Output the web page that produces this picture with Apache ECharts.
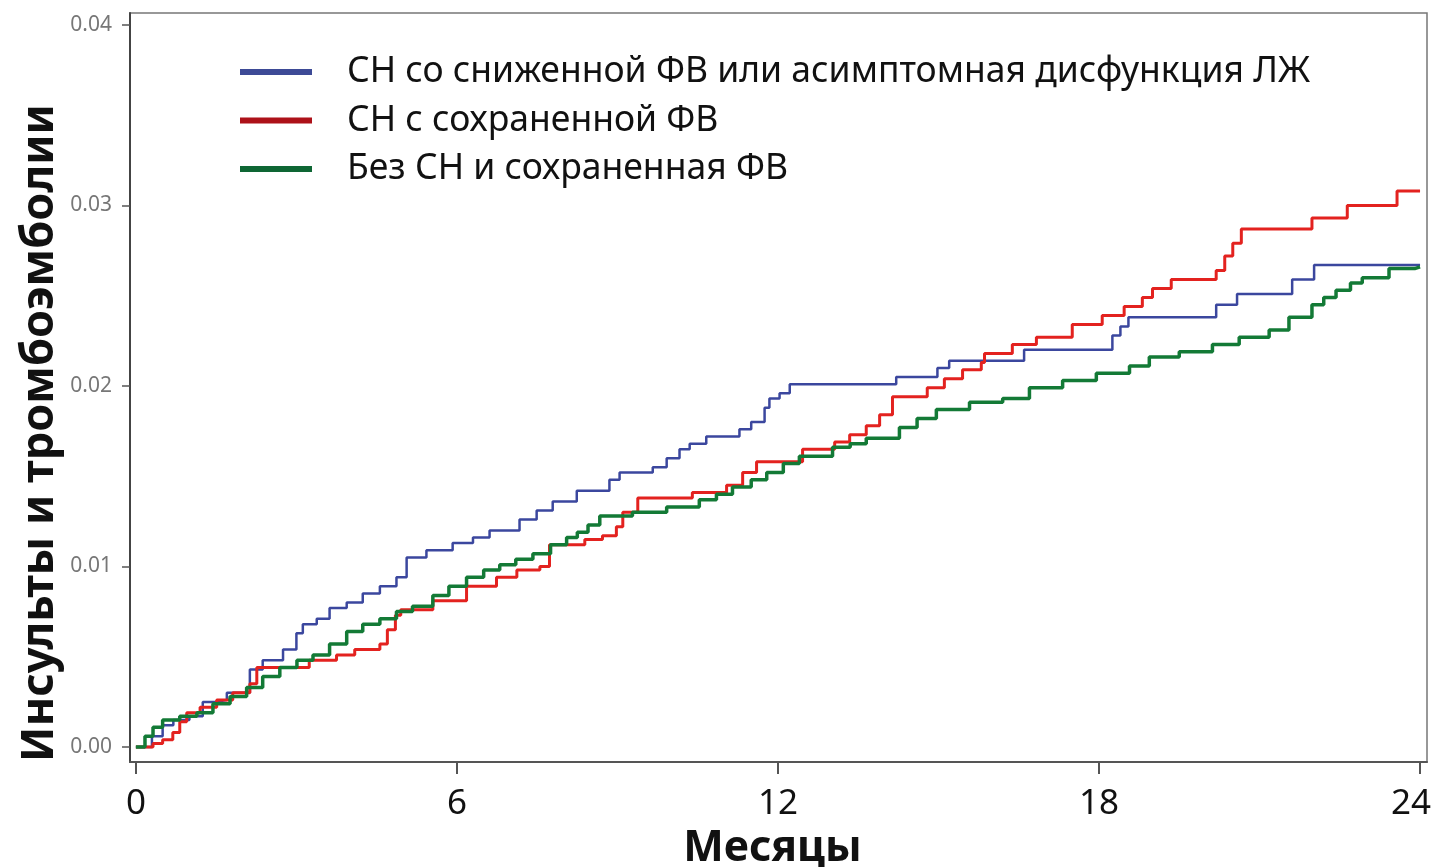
<!DOCTYPE html>
<html><head><meta charset="utf-8">
<script src="https://cdn.jsdelivr.net/npm/echarts@6/dist/echarts.min.js"></script>
<style>html,body{margin:0;padding:0;background:#fff}#c{width:1434px;height:867px}</style>
</head><body><div id="c"></div>
<script>
const seriesNames = ['СН со сниженной ФВ или асимптомная дисфункция ЛЖ','СН с сохраненной ФВ','Без СН и сохраненная ФВ'];
const xTicks = [0, 6, 12, 18, 24];
const yTicks = [0, 0.01, 0.02, 0.03, 0.04];
const xTitle = 'Месяцы';
const yTitle = 'Инсульты и тромбоэмболии';

const blueMonths = [0,0.13,0.3,0.5,0.7,1.0,1.25,1.5,1.7,2.13,2.37,2.75,3.0,3.12,3.38,3.62,3.94,4.24,4.56,4.87,5.06,5.43,5.92,6.3,6.61,7.17,7.49,7.79,8.24,8.85,9.04,9.66,9.92,10.16,10.35,10.66,11.28,11.5,11.75,11.84,12.03,12.22,14.21,14.98,15.2,16.6,18.25,18.4,18.55,20.19,20.58,21.61,22.02,24.0];
const blueValues = [0,0,0.0006,0.0012,0.0015,0.0017,0.0025,0.0026,0.003,0.0043,0.0048,0.0054,0.0063,0.0068,0.0071,0.0077,0.008,0.0085,0.0089,0.0094,0.0105,0.0109,0.0113,0.0116,0.012,0.0126,0.0131,0.0136,0.0142,0.0148,0.0152,0.0155,0.016,0.0165,0.0168,0.0172,0.0176,0.018,0.0188,0.0193,0.0196,0.0201,0.0205,0.021,0.0214,0.022,0.0228,0.0233,0.0238,0.0245,0.0251,0.0259,0.0267,0.0267];

const redMonths = [0,0.32,0.5,0.69,0.82,0.95,1.2,1.51,1.81,2.13,2.26,3.24,3.75,4.09,4.56,4.7,4.85,4.95,5.55,6.18,6.74,7.12,7.55,7.73,8.39,8.72,8.98,9.1,9.38,10.4,11.04,11.34,11.6,12.46,13.06,13.34,13.65,13.9,14.14,14.79,15.11,15.45,15.8,15.86,16.38,16.83,17.5,18.06,18.47,18.81,19.0,19.35,20.19,20.35,20.5,20.66,21.98,22.64,23.57,24.0];
const redValues = [0,0.0002,0.0004,0.0008,0.0014,0.0019,0.0022,0.0026,0.003,0.0035,0.0044,0.0048,0.0051,0.0054,0.0057,0.0065,0.0073,0.0076,0.0081,0.0089,0.0094,0.0098,0.01,0.0112,0.0115,0.0117,0.0122,0.013,0.0138,0.0141,0.0145,0.0152,0.0158,0.0165,0.0169,0.0173,0.0178,0.0184,0.0194,0.0199,0.0204,0.0209,0.0213,0.0218,0.0223,0.0227,0.0234,0.0239,0.0244,0.0249,0.0254,0.0259,0.0264,0.0272,0.0279,0.0287,0.0293,0.03,0.0308,0.0308];

const greenMonths = [0,0.17,0.32,0.5,0.82,1.14,1.44,1.76,2.07,2.37,2.69,3.01,3.31,3.62,3.94,4.24,4.56,4.87,5.17,5.55,5.85,6.18,6.5,6.8,7.1,7.42,7.75,8.05,8.25,8.45,8.67,9.28,9.92,10.53,10.85,11.15,11.5,11.79,12.1,12.4,13.02,13.35,13.65,14.27,14.6,14.96,15.58,16.2,16.7,17.32,17.95,18.57,18.94,19.5,20.12,20.62,21.18,21.55,21.98,22.2,22.43,22.7,22.92,23.42,23.9,24.0];
const greenValues = [0,0.0006,0.0011,0.0015,0.0017,0.0019,0.0024,0.0028,0.0033,0.0039,0.0044,0.0048,0.0051,0.0057,0.0064,0.0068,0.0071,0.0075,0.0078,0.0084,0.0089,0.0094,0.0098,0.0101,0.0104,0.0107,0.0112,0.0116,0.0119,0.0123,0.0128,0.013,0.0133,0.0137,0.014,0.0144,0.0148,0.0152,0.0157,0.0161,0.0166,0.0168,0.0171,0.0177,0.0182,0.0187,0.0191,0.0193,0.0199,0.0203,0.0207,0.0211,0.0216,0.0219,0.0223,0.0227,0.0231,0.0238,0.0245,0.0249,0.0253,0.0257,0.026,0.0265,0.0266,0.0266];

const lineColors = ['#3b479e', '#e3221f', '#137a36'];
const legendColors = ['#3d4a96', '#ad1119', '#0e6634'];
const lineWidths = [2.5, 3, 3.5];

function zip(a, b) { return a.map((t, i) => [t, b[i]]); }
const datasets = [zip(blueMonths, blueValues), zip(redMonths, redValues), zip(greenMonths, greenValues)];

const chart = echarts.init(document.getElementById('c'));
const FONT = '"Noto Sans", sans-serif';
chart.setOption({
  animation: false,
  backgroundColor: '#fff',
  grid: { left: 130, right: 7, top: 13, bottom: 105, show: true, borderColor: '#777', borderWidth: 1.5,
    outerBoundsMode: 'none', containLabel: false },
  legend: {
    orient: 'vertical', left: 240, top: 54, padding: 0, icon: 'rect', itemWidth: 72, itemHeight: 6, itemGap: 12.5,
    textStyle: { fontFamily: FONT, fontSize: 35.5, color: '#111', padding: [0, 0, 0, 30], lineHeight: 36 },
    data: seriesNames.map((n, i) => ({ name: n, itemStyle: { color: legendColors[i] } }))
  },
  xAxis: {
    type: 'value', min: -0.11, max: 24.13,
    axisLine: { onZero: false, lineStyle: { color: '#555', width: 2 } },
    axisTick: { show: true, length: 12, lineStyle: { color: '#555', width: 2 }, customValues: xTicks },
    axisLabel: { fontFamily: FONT, fontSize: 35, color: '#111', margin: 25, customValues: xTicks,
      formatter: v => v === 24 ? '24{s|}' : String(v), rich: { s: { width: 18 } } },
    splitLine: { show: false },
    name: xTitle, nameLocation: 'middle', nameGap: 60,
    nameTextStyle: { fontFamily: FONT, fontSize: 43, fontWeight: 'bold', color: '#111', padding: [0, 12, 0, 0] }
  },
  yAxis: {
    type: 'value', min: -0.00083, max: 0.04066,
    axisLine: { onZero: false, lineStyle: { color: '#444', width: 2 } },
    axisTick: { show: true, length: 8, lineStyle: { color: '#555', width: 1.5 }, customValues: yTicks },
    axisLabel: { fontFamily: FONT, fontSize: 21, color: '#777', margin: 18, customValues: yTicks,
      formatter: v => v.toFixed(2) },
    splitLine: { show: false }
  },
  graphic: [{
    type: 'text', x: 40, y: 433, rotation: Math.PI / 2,
    style: { text: yTitle, fontFamily: FONT, fontSize: 45, fontWeight: 'bold', fill: '#111',
      align: 'center', verticalAlign: 'middle' }
  }],
  series: datasets.map((d, i) => ({
    name: seriesNames[i], type: 'line', step: 'end', data: d, showSymbol: false, symbol: 'none',
    lineStyle: { color: lineColors[i], width: lineWidths[i] }, itemStyle: { color: lineColors[i] }
  }))
});
</script></body></html>
